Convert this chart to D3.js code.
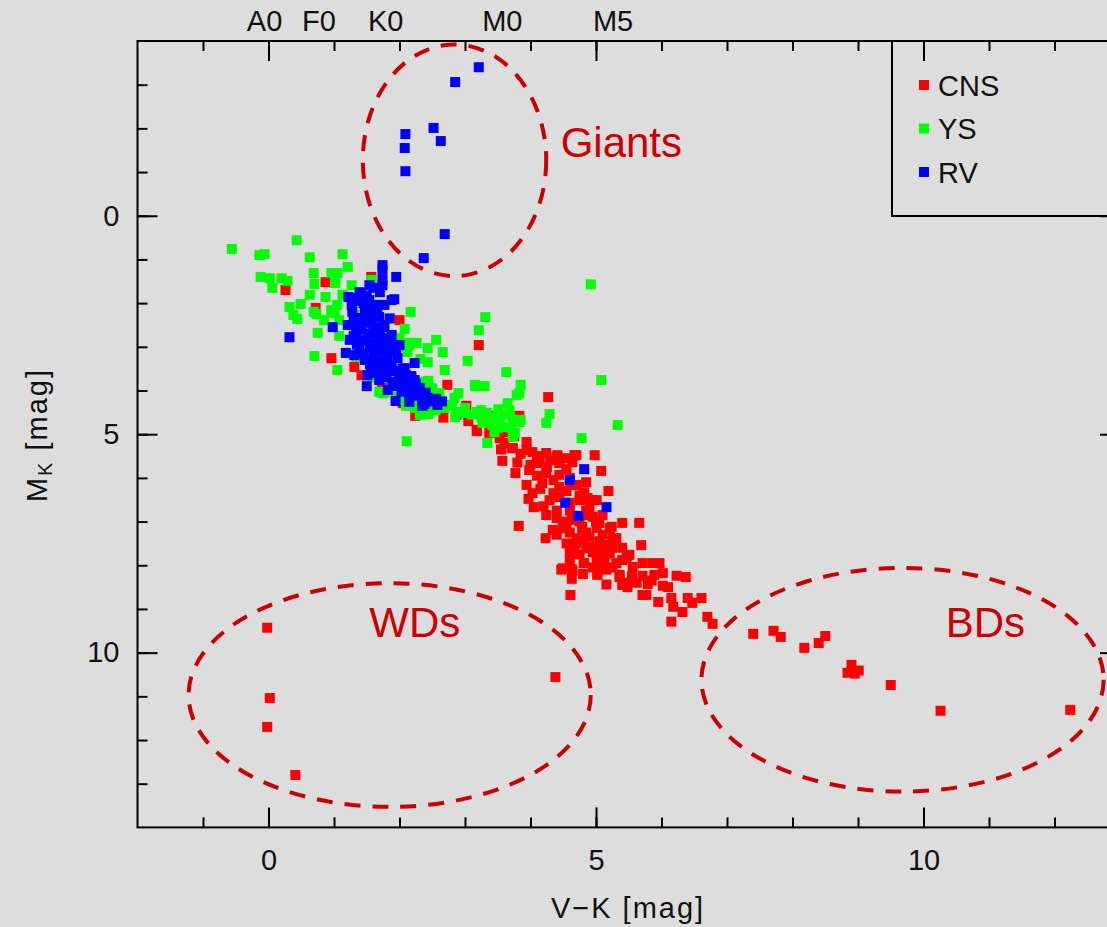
<!DOCTYPE html>
<html>
<head>
<meta charset="utf-8">
<script src="https://cdn.jsdelivr.net/npm/d3@7"></script>
<style>
  body { margin: 0; background: #dddddd; }
  svg { display: block; font-family: "Liberation Sans", Arial, sans-serif; }
</style>
</head>
<body>
<div id="chart"></div>
<script>
// V-K [mag], M_K [mag] pairs
const cnsPoints = [
  // white dwarfs
  [-0.02,9.43],[0.02,11.04],[-0.02,11.70],[0.41,12.80],[4.38,10.56],
  // brown dwarfs
  [7.40,9.57],[7.71,9.50],[7.82,9.64],[8.18,9.89],[8.40,9.78],[8.50,9.62],[8.90,10.28],
  [8.84,10.46],[8.95,10.48],[9.01,10.41],[9.50,10.74],[10.26,11.33],[12.24,11.31],
  // main sequence
  [0.26,1.70],[0.87,1.52],[0.72,2.11],[2.00,2.39],[0.96,3.26],[1.31,3.46],[1.42,3.65],[1.73,3.94],
  [2.05,4.29],[2.26,4.51],[1.57,1.40],[3.21,2.96],[2.73,3.87],[4.27,4.15],[3.02,4.35],[2.24,4.58],
  [2.67,4.62],[2.87,4.56],[3.22,4.51],[3.45,4.58],[3.83,4.58],[3.18,4.90],[3.37,4.97],[3.53,5.09],
  [3.71,5.32],[3.94,5.18],[3.94,5.36],[3.57,5.61],[4.24,5.43],[4.40,5.52],[4.67,5.48],[2.11,4.33],
  [2.46,4.45],[3.18,4.93],[3.73,5.32],[4.03,5.41],[4.41,5.48],[4.70,5.48],[4.98,5.48],[4.14,5.66],
  [4.44,5.66],[4.64,5.64],[5.08,5.84],[3.77,5.89],[3.98,5.82],[4.24,5.89],[4.44,5.93],[3.94,6.16],
  [4.18,6.12],[4.44,6.21],[4.70,6.16],[5.19,6.30],[4.03,6.35],[3.97,6.48],[4.05,6.67],[4.29,6.51],
  [4.44,6.44],[4.60,6.57],[4.87,6.46],[5.01,6.51],[4.24,6.85],[4.40,6.92],[4.64,6.89],[4.85,6.85],
  [4.95,6.89],[3.82,7.10],[4.34,7.19],[4.55,7.15],[4.79,7.12],[5.05,7.03],[5.24,7.12],[5.40,7.03],
  [4.23,7.38],[4.70,7.38],[4.90,7.35],[5.25,7.38],[4.67,7.54],[4.90,7.58],[5.16,7.54],[4.60,7.72],
  [4.82,7.95],[5.01,7.81],[5.21,7.72],[5.47,7.81],[4.47,8.10],[4.64,8.13],[4.63,8.31],[5.02,8.20],
  [5.16,8.44],[5.36,8.27],[5.48,8.40],[5.56,8.04],[5.66,7.03],[5.69,7.54],[5.71,7.95],[5.51,7.76],
  [5.86,7.95],[5.97,7.95],[6.02,8.18],[5.89,8.22],[6.23,8.24],[6.37,8.27],[5.71,8.24],[5.79,8.43],
  [6.02,8.47],[5.48,8.50],[5.62,8.40],[5.77,8.68],[5.71,8.68],[5.95,8.84],[6.15,8.75],[6.40,8.75],
  [6.61,8.75],[6.18,8.95],[6.32,9.07],[6.47,8.86],[6.70,9.18],[6.78,9.34],[6.15,9.29],[4.61,8.68],
  [5.02,8.22],[4.63,8.09],[4.49,8.07],[4.81,7.95],[5.02,7.99],[5.16,8.10],[5.36,8.22],[5.31,7.95],
  [5.40,7.88],[5.13,7.88],[4.95,7.70],[5.10,7.54],[4.85,7.61],[4.70,7.49],[5.31,7.38],[5.21,7.15],
  [5.01,7.15],[4.79,7.19],[4.49,7.15],[4.64,6.96],[4.90,6.67],[4.75,6.51],[4.95,6.51],[4.82,6.33],
  [4.61,6.16],
  [3.85,5.45],[4.10,5.50],[4.30,5.60],[4.55,5.55],[4.00,5.70],[4.25,5.75],[4.55,5.80],[4.10,5.95],
  [4.35,6.05],[4.60,6.00],[4.85,6.10],[4.15,6.25],[4.35,6.35],[4.55,6.30],[4.75,6.40],[4.20,6.65],
  [4.40,6.75],[4.60,6.75],[4.85,6.75],[5.10,6.85],[4.50,7.00],[4.75,7.00],[5.00,7.00],[4.40,7.30],
  [4.60,7.25],[4.85,7.25],[5.10,7.30],[4.55,7.50],[4.80,7.45],[5.05,7.45],[5.25,7.60],[4.75,7.75],
  [5.00,7.65],[5.40,7.60],[4.60,7.90],[5.15,7.75],[4.95,8.05],[5.25,8.05],[4.80,8.20],[5.55,8.25],
  [5.85,8.35],[6.10,8.50],[5.40,8.45],[3.60,5.20],[3.75,5.05],[3.50,4.85],[3.65,4.95],[3.40,4.75],
  [3.05,4.70],[2.90,4.50],[3.55,5.35],[3.80,5.65]
];

const ysPoints = [
  [-0.56,0.76],[0.43,0.56],[-0.14,0.90],[-0.06,0.88],[0.63,0.95],[1.13,0.88],[1.21,1.17],[-0.12,1.40],
  [0.02,1.43],[0.20,1.43],[0.29,1.49],[0.06,1.65],[0.69,1.31],[0.96,1.31],[1.05,1.31],[0.70,1.56],
  [1.02,1.54],[1.27,1.59],[1.57,1.47],[0.63,1.81],[0.87,1.86],[0.49,2.02],[0.32,2.09],[0.38,2.27],
  [0.44,2.36],[0.69,2.20],[0.73,2.25],[0.96,2.16],[1.05,2.04],[1.13,1.81],[2.17,2.20],[2.08,2.59],
  [1.95,2.82],[2.15,2.96],[2.12,3.12],[0.85,2.39],[0.75,2.68],[1.08,2.75],[0.70,3.21],[1.05,3.53],
  [1.34,3.23],[1.59,3.71],[1.74,4.06],[2.20,4.27],[1.01,2.23],[0.96,2.18],[2.00,2.80],[2.14,2.91],
  [2.56,2.84],[2.66,3.12],[2.43,3.35],[2.69,3.53],[3.04,3.32],[3.31,2.32],[3.21,2.62],[3.63,3.58],
  [3.85,3.87],[3.79,4.10],[3.65,4.29],[2.11,5.16],[2.44,4.54],[2.85,4.61],[3.34,5.20],[3.16,3.90],
  [3.30,3.90],[3.74,4.97],[3.85,4.67],[3.25,4.61],[3.53,4.67],[1.88,2.80],[2.00,2.96],[2.12,3.00],
  [2.26,2.91],[2.43,3.03],[1.69,4.03],[1.77,4.06],[2.05,4.22],[2.20,4.29],[2.31,4.56],[2.46,3.99],
  [2.61,4.06],[2.72,4.33],[2.87,4.49],[2.96,4.51],[3.18,4.49],[3.33,4.51],[3.53,4.61],[3.57,4.84],
  [3.73,4.67],[3.76,4.97],[3.83,4.06],[3.68,4.45],[3.27,4.74],[4.92,1.57],[5.08,3.76],[5.33,4.79],
  [4.78,5.09],[4.24,4.74],[4.29,4.54],[3.42,4.79],[3.73,5.06],[3.83,4.72],[3.51,4.43],[2.95,4.51],
  [2.69,4.40],[2.90,4.06],[2.84,4.17],[3.15,3.87],[2.44,3.78],[2.32,3.28],[1.95,2.89],[2.20,2.91],
  [1.31,2.27],[1.47,2.50],[1.08,2.39],[1.77,3.53],[1.92,3.65],
  [1.95,4.15],[2.10,4.35],[2.25,4.40],[2.40,4.45],[2.55,4.45],[2.60,4.25],[2.80,4.35],[3.00,4.40],
  [3.10,4.55],[3.25,4.45],[3.40,4.60],[3.60,4.55],[3.70,4.85],[3.45,4.95],[2.50,3.95],[2.35,3.80]
];

const rvPoints = [
  // giants
  [3.21,-3.40],[2.85,-3.06],[2.52,-2.01],[2.63,-1.71],[2.09,-1.87],[2.08,-1.55],[2.09,-1.02],
  [2.69,0.42],[2.37,0.97],
  // dwarfs
  [1.74,1.24],[1.74,1.47],[1.95,1.40],[1.92,1.91],[1.66,2.04],[0.98,2.55],[0.32,2.78],[1.18,3.14],
  [2.23,3.37],[2.18,3.67],[1.50,3.90],[1.94,4.24],[2.38,4.31],[2.56,4.19],[1.22,1.86],[1.42,1.77],
  [1.69,2.32],[1.74,2.55],[1.80,3.37],[1.89,3.81],[2.20,3.94],
  [1.39,1.75],[1.54,1.93],[1.27,2.04],[1.47,2.16],[1.66,2.20],[1.36,2.34],[1.57,2.43],[1.77,2.50],
  [1.42,2.61],[1.62,2.68],[1.24,2.84],[1.51,2.84],[1.73,2.89],[1.88,2.96],[1.39,3.03],[1.62,3.07],
  [1.82,3.19],[1.97,3.26],[1.47,3.30],[1.69,3.35],[1.88,3.42],[2.08,3.49],[1.57,3.53],[1.79,3.58],
  [2.00,3.65],[2.18,3.71],[1.69,3.76],[1.92,3.81],[2.12,3.87],[2.31,3.94],[1.82,3.99],[2.03,4.03],
  [2.23,4.10],[2.43,4.17],[2.15,4.26],[2.58,4.33],[1.31,1.88],[1.21,2.50],[1.34,2.73],[1.54,1.59],
  [1.88,1.93],[1.77,2.04],[1.50,1.84],[1.88,2.73],[2.00,2.96],[1.31,3.19],[1.51,3.65],[2.23,3.76],
  [1.74,1.13],[1.74,1.59],
  [1.30,2.40],[1.45,2.45],[1.60,2.55],[1.35,2.95],[1.55,3.00],[1.45,3.15],[1.60,3.20],[1.75,3.25],
  [1.55,3.40],[1.70,3.45],[1.85,3.55],[1.65,3.60],[1.80,3.70],[2.00,3.78],[1.90,3.90],[2.05,3.92],
  [2.15,4.05],[2.30,4.12],[2.35,4.25],[1.45,2.00],[1.60,2.05],[1.50,2.30],[1.35,2.60],[1.55,2.70],
  [1.70,2.75],[1.30,2.75],[1.45,2.85],[1.62,2.92],[1.80,3.05],[1.95,3.10],[1.40,1.95],[1.55,2.25],
  [1.28,2.20],[1.85,2.35],[1.70,1.75],[1.60,1.65],[1.83,2.80],[1.75,3.05],[2.05,3.50],[2.10,3.65],
  [1.95,3.55],[2.25,3.85],[2.40,4.05],[2.50,4.25],[2.35,4.35],[2.65,4.25],
  // lower main sequence
  [4.82,5.80],[4.60,6.05],[4.53,6.57],[4.73,6.87],[5.16,6.67]
];

const seriesNames = ["CNS", "YS", "RV"];
const seriesColors = ["#ff0000", "#00ff00", "#0000ff"];

const xMajorTicks = [0, 5, 10];
const yMajorTicks = [0, 5, 10];
const spectralTypes = ["A0", "F0", "K0", "M0", "M5"];
const spectralVK = [-0.06, 0.77, 1.79, 3.57, 5.26];

// regions: [cx, cy, rx, ry] in mag, label and label position
const regionNames = ["Giants", "WDs", "BDs"];
const regionShapes = [[2.84, -1.27, 1.40, 2.65], [1.85, 10.97, 3.07, 2.56], [9.68, 10.62, 3.07, 2.56]];
const regionLabelPos = [[4.46, -1.34], [1.54, 9.64], [10.34, 9.64]];

const width = 1107, height = 927;

const x = d3.scaleLinear().domain([-2, 13]).range([137.5, 1120]);
const y = d3.scaleLinear().domain([-4, 14]).range([41, 827.4]);

const svg = d3.select("#chart").append("svg")
  .attr("width", width)
  .attr("height", height);

svg.append("rect").attr("width", width).attr("height", height).attr("fill", "#dddddd");

// points: CNS below, then YS, RV on top
const size = 10;
[cnsPoints, ysPoints, rvPoints].forEach((pts, i) => {
  svg.append("g")
    .selectAll("rect")
    .data(pts)
    .join("rect")
    .attr("x", d => x(d[0]) - size / 2)
    .attr("y", d => y(d[1]) - size / 2)
    .attr("width", size)
    .attr("height", size)
    .attr("fill", seriesColors[i]);
});

// dashed ellipses
svg.append("g")
  .selectAll("ellipse")
  .data(regionShapes)
  .join("ellipse")
  .attr("cx", d => x(d[0]))
  .attr("cy", d => y(d[1]))
  .attr("rx", d => x(d[0] + d[2]) - x(d[0]))
  .attr("ry", d => y(d[1] + d[3]) - y(d[1]))
  .attr("fill", "none")
  .attr("stroke", "#cc0000")
  .attr("stroke-width", 4)
  .attr("stroke-dasharray", "16 12");

svg.append("g")
  .selectAll("text")
  .data(regionNames)
  .join("text")
  .attr("x", (d, i) => x(regionLabelPos[i][0]))
  .attr("y", (d, i) => y(regionLabelPos[i][1]))
  .attr("font-size", 42)
  .attr("fill", "#cc0000")
  .text(d => d);

// frame
svg.append("rect")
  .attr("x", x(-2)).attr("y", y(-4))
  .attr("width", x(13) - x(-2)).attr("height", y(14) - y(-4))
  .attr("fill", "none").attr("stroke", "#000").attr("stroke-width", 2);

// axes, ticks inward
const minorX = d3.range(-1, 13), minorY = d3.range(-3, 14);
const styleAxis = g => {
  g.select(".domain").remove();
  g.selectAll("line").attr("stroke", "#000").attr("stroke-width", 2);
  g.selectAll("text").attr("font-size", 29).attr("fill", "#111")
    .attr("font-family", "Liberation Sans, Arial, sans-serif");
};

svg.append("g").attr("transform", `translate(0,${y(14)})`)
  .call(d3.axisBottom(x).tickValues(minorX).tickSize(-10).tickFormat("")).call(styleAxis);
svg.append("g").attr("transform", `translate(0,${y(14)})`)
  .call(d3.axisBottom(x).tickValues(xMajorTicks).tickSize(-20).tickPadding(22)).call(styleAxis);
svg.append("g").attr("transform", `translate(0,${y(-4)})`)
  .call(d3.axisTop(x).tickValues(minorX).tickSize(-10).tickFormat("")).call(styleAxis);
svg.append("g").attr("transform", `translate(0,${y(-4)})`)
  .call(d3.axisTop(x).tickValues(xMajorTicks).tickSize(-20).tickFormat("")).call(styleAxis);

svg.append("g").attr("transform", `translate(${x(-2)},0)`)
  .call(d3.axisLeft(y).tickValues(minorY).tickSize(-10).tickFormat("")).call(styleAxis);
svg.append("g").attr("transform", `translate(${x(-2)},0)`)
  .call(d3.axisLeft(y).tickValues(yMajorTicks).tickSize(-20).tickPadding(18)).call(styleAxis);
svg.append("g").attr("transform", `translate(${x(13)},0)`)
  .call(d3.axisRight(y).tickValues(minorY).tickSize(-10).tickFormat("")).call(styleAxis);
svg.append("g").attr("transform", `translate(${x(13)},0)`)
  .call(d3.axisRight(y).tickValues(yMajorTicks).tickSize(-20).tickFormat("")).call(styleAxis);

// spectral types on top
svg.append("g")
  .selectAll("text")
  .data(spectralTypes)
  .join("text")
  .attr("x", (d, i) => x(spectralVK[i]))
  .attr("y", 31)
  .attr("text-anchor", "middle")
  .attr("font-size", 29)
  .attr("fill", "#111")
  .text(d => d);

// axis titles
svg.append("text")
  .attr("x", 628).attr("y", 918)
  .attr("text-anchor", "middle")
  .attr("font-size", 29)
  .attr("letter-spacing", 2)
  .attr("fill", "#111")
  .text("V\u2212K [mag]");

const yTitle = svg.append("text")
  .attr("transform", "translate(47,435) rotate(-90)")
  .attr("text-anchor", "middle")
  .attr("font-size", 29)
  .attr("letter-spacing", 2)
  .attr("fill", "#111");
yTitle.append("tspan").text("M");
yTitle.append("tspan").attr("font-size", 20).attr("dy", 5).text("K");
yTitle.append("tspan").attr("dy", -5).text(" [mag]");

// legend
const legend = svg.append("g");
legend.append("rect")
  .attr("x", 892).attr("y", y(-4))
  .attr("width", 240).attr("height", 216 - y(-4))
  .attr("fill", "none").attr("stroke", "#000").attr("stroke-width", 2);
seriesNames.forEach((name, i) => {
  const cy = 85 + i * 43.5;
  legend.append("rect")
    .attr("x", 919).attr("y", cy - 5)
    .attr("width", 10).attr("height", 10)
    .attr("fill", seriesColors[i]);
  legend.append("text")
    .attr("x", 938).attr("y", cy + 10.5)
    .attr("font-size", 29)
    .attr("fill", "#111")
    .text(name);
});
</script>
</body>
</html>
